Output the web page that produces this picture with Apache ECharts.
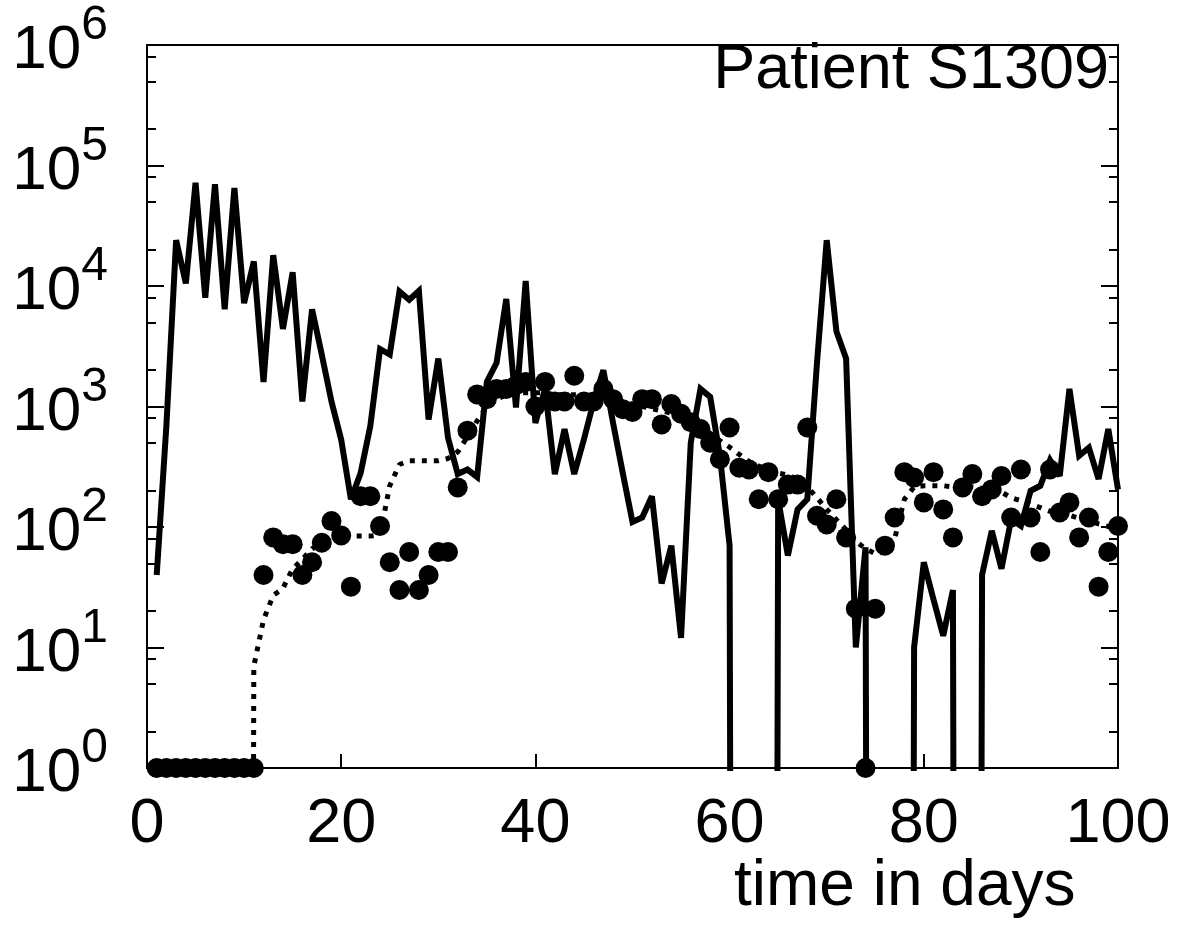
<!DOCTYPE html>
<html>
<head>
<meta charset="utf-8">
<title>Patient S1309</title>
<script src="https://cdn.jsdelivr.net/npm/echarts@6/dist/echarts.min.js"></script>
<style>
  html, body { margin: 0; padding: 0; background: #fff; }
  #main { width: 1186px; height: 931px; }
</style>
</head>
<body>
<div id="main"></div>
<script>
// days 1..100
var days = [1,2,3,4,5,6,7,8,9,10,11,12,13,14,15,16,17,18,19,20,
    21,22,23,24,25,26,27,28,29,30,31,32,33,34,35,36,37,38,39,40,
    41,42,43,44,45,46,47,48,49,50,51,52,53,54,55,56,57,58,59,60,
    61,62,63,64,65,66,67,68,69,70,71,72,73,74,75,76,77,78,79,80,
    81,82,83,84,85,86,87,88,89,90,91,92,93,94,95,96,97,98,99,100];

// solid line (0 = drops out of the log axis)
var solidVals = [40,700,24000,10500,72000,8000,70000,6400,65000,7200,
    16000,1600,18000,4400,13000,1100,6400,2700,1100,530,
    170,280,690,3000,2700,9000,7700,9100,780,2500,
    550,275,300,260,1600,2300,7800,980,11000,730,
    1400,275,650,275,535,1100,2000,730,280,110,
    120,180,34,70,12,500,1400,1200,390,70,
    0,0,0,0,170,58,140,170,2300,24000,
    4200,2500,10,68,0,0,0,0,10,51,
    25,12.5,30,0,0,40,93,45,116,102,
    200,220,360,265,1400,390,455,250,650,205];

// dotted line (running mean)
var dottedVals = [null,null,null,null,null,null,null,null,null,0,
    7,17,27,31,45,54,66,72,82,84,
    84,84,84,86,220,330,355,355,355,355,
    370,420,560,760,1000,1150,1250,1300,1300,1300,
    1300,1250,1250,1250,1250,1200,1200,1150,1100,1050,
    1000,960,920,880,830,760,680,600,520,460,
    400,350,320,300,280,270,250,215,175,140,
    115,95,76,66,60,62,80,170,215,220,
    220,220,215,215,215,210,205,195,175,165,
    155,145,135,130,125,118,112,106,101,96];

// filled dots
var dotVals = [1,1,1,1,1,1,1,1,1,1,
    1,40,82,72,72,40,51,74,112,85,
    32,180,180,102,51,30,62,30,40,62,
    62,213,630,1260,1150,1400,1400,1500,1600,1000,
    1600,1100,1100,1800,1100,1100,1400,1150,950,900,
    1150,1150,710,1050,870,740,650,500,365,670,
    310,300,170,285,170,225,225,670,124,105,
    170,82,21,1,21,70,120,285,257,160,
    285,140,82,213,275,180,205,265,120,300,
    120,62,300,132,160,82,120,32,62,102];

var xTicks = [0, 20, 40, 60, 80, 100];
var yDecades = [0, 1, 2, 3, 4, 5, 6];
var minorMultipliers = [2, 5, 8];

var FONT = '"Liberation Sans", Arial, Helvetica, sans-serif';

function pairs(vals) {
    var out = [];
    for (var i = 0; i < days.length; i++) {
        var v = vals[i];
        if (v === null) continue;
        // zero can't sit on a log axis: push it far below so the line drops out
        out.push([days[i], v === 0 ? 1e-30 : v]);
    }
    return out;
}

var minorTicks = [];
yDecades.slice(0, -1).forEach(function (d) {
    minorMultipliers.forEach(function (m) {
        minorTicks.push(d + Math.log10(m));
    });
});

var chart = echarts.init(document.getElementById('main'), null, {renderer: 'canvas'});

var helperAxis = function (pos, len, custom) {
    return {
        type: 'value', position: pos, min: 0, max: 6, interval: 1,
        axisLine: {show: false},
        axisLabel: {show: false},
        splitLine: {show: false},
        axisTick: {
            inside: true, length: len,
            customValues: custom,
            lineStyle: {color: '#000', width: 2}
        }
    };
};

var option = {
    animation: false,
    backgroundColor: '#fff',
    title: [{
        text: 'Patient S1309',
        right: 77, top: 39, padding: 0,
        textStyle: {fontFamily: FONT, fontSize: 63, fontWeight: 'normal', color: '#000'}
    }, {
        text: 'time in days',
        left: 734, top: 855, padding: 0,
        textStyle: {fontFamily: FONT, fontSize: 64, fontWeight: 'normal', color: '#000'}
    }],
    grid: {
        left: 147, right: 68, top: 45, bottom: 163,
        show: true, borderColor: '#000', borderWidth: 2
    },
    xAxis: {
        type: 'value', min: 0, max: 100, interval: 20,
        axisLine: {lineStyle: {color: '#000', width: 2}},
        axisTick: {inside: true, length: 14, customValues: xTicks, lineStyle: {color: '#000', width: 2}},
        splitLine: {show: false},
        axisLabel: {
            color: '#000', fontFamily: FONT, fontSize: 63, margin: 25,
            customValues: xTicks
        }
    },
    yAxis: [{
        type: 'log', logBase: 10, min: 1, max: 1e6, interval: 1,
        axisLine: {lineStyle: {color: '#000', width: 2}},
        axisTick: {inside: true, length: 17, lineStyle: {color: '#000', width: 2}},
        splitLine: {show: false},
        minorTick: {show: false},
        axisLabel: {
            margin: 39,
            padding: [12, 0, 0, 0],
            formatter: function (v) {
                return '{b|10}{e|' + Math.round(Math.log10(v)) + '}';
            },
            rich: {
                b: {fontFamily: FONT, fontSize: 62, lineHeight: 98, color: '#000'},
                e: {fontFamily: FONT, fontSize: 48, lineHeight: 44, verticalAlign: 'top', color: '#000'}
            }
        }
    },
        helperAxis('left', 9, minorTicks),
        helperAxis('right', 17, yDecades),
        helperAxis('right', 9, minorTicks)
    ],
    series: [{
        name: 'solid',
        type: 'line',
        data: pairs(solidVals),
        showSymbol: false,
        symbol: 'none',
        clip: true,
        lineStyle: {color: '#000', width: 6, join: 'miter', miterLimit: 3}
    }, {
        name: 'mean',
        type: 'line',
        data: pairs(dottedVals),
        showSymbol: false,
        symbol: 'none',
        clip: true,
        lineStyle: {color: '#000', width: 5, type: [5, 7]}
    }, {
        name: 'dots',
        type: 'scatter',
        data: pairs(dotVals),
        symbol: 'circle',
        symbolSize: 20,
        itemStyle: {color: '#000', opacity: 1}
    }]
};

chart.setOption(option);
</script>
</body>
</html>
